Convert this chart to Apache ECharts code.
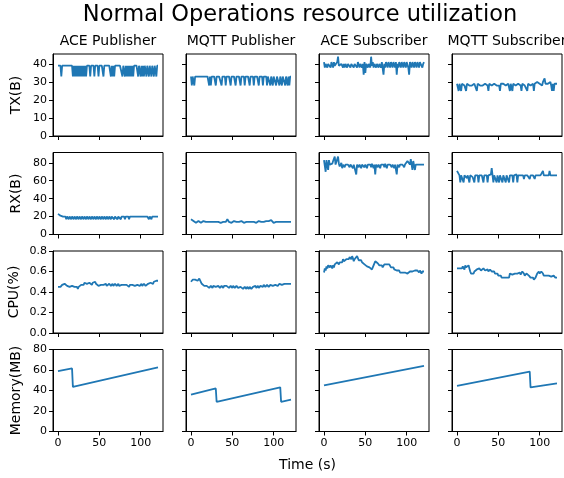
<!DOCTYPE html>
<html><head><meta charset="utf-8">
<script src="https://cdn.jsdelivr.net/npm/echarts@6/dist/echarts.min.js"></script>
<style>html,body{margin:0;padding:0;background:#fff}#c{width:564px;height:478px}</style>
</head><body><div id="c"></div>
<script>
// ---------------- data ----------------
const chartTitle = 'Normal Operations resource utilization';
const columns = ['ACE Publisher', 'MQTT Publisher', 'ACE Subscriber', 'MQTT Subscriber'];
const rowLabels = ['TX(B)', 'RX(B)', 'CPU(%)', 'Memory(MB)'];
const xLabel = 'Time (s)';
const SAMPLE_STEP = 1; // seconds between samples
const xTicks = [0, 50, 100];
const txTicks = [0, 10, 20, 30, 40];
const rxTicks = [0, 20, 40, 60, 80];
const cpuTicks = [0, 0.2, 0.4, 0.6, 0.8];
const memTicks = [0, 20, 40, 60, 80];

const tx_acePub = [
39,39,39,39,33,39,39,39,39,39,
39,39,39,39,39,39,39,39,33,39,
33,39,33,39,33,39,33,39,33,39,
33,39,33,39,33,39,39,39,39,33,
39,39,39,39,33,39,39,39,39,33,
39,39,39,39,39,33,39,39,39,39,
39,39,39,39,33,39,33,39,33,39,
39,39,39,39,39,39,39,39,33,39,
39,33,39,33,39,33,39,33,39,33,
39,33,39,39,39,39,39,33,39,39,
33,39,33,39,33,39,39,33,39,39,
33,39,39,33,39,39,33,39,39,33,
39,39];
const tx_mqttPub = [
33,28,33,33,28,33,33,33,33,33,
33,33,33,33,33,33,33,33,33,33,
33,33,28,33,28,33,33,33,33,33,
28,33,33,33,33,33,33,28,33,33,
33,33,28,33,33,33,33,33,28,33,
33,33,33,33,28,33,33,33,33,33,
28,33,33,33,33,28,33,33,33,33,
33,28,33,33,33,33,28,33,33,33,
33,33,28,33,33,33,33,28,33,33,
33,33,28,33,33,33,28,33,33,28,
33,33,33,28,33,33,33,28,33,33,
28,33,33,33,28,33,33,28,33,28,
33,33];
const tx_aceSub = [
41,38,40,41,38,40,39,41,38,41,
40,38,41,39,40,38,41,44,39,40,
38,40,41,38,40,38,40,41,38,40,
40,41,38,40,39,40,38,40,41,40,
38,41,40,38,40,41,38,40,34,41,
35,40,41,38,40,41,38,44,39,41,
38,40,41,38,40,41,38,40,41,38,
41,40,34,40,38,41,40,38,41,40,
38,41,40,38,41,40,38,41,34,40,
38,41,40,38,41,40,38,41,40,38,
41,40,38,34,41,40,38,41,40,38,
41,40,38,41,40,38,41,40,41,38,
40,41];
const tx_mqttSub = [
29,29,25,29,28,25,29,28,29,28,
29,25,29,28,29,28,29,29,28,29,
28,29,28,29,25,29,28,29,28,29,
29,28,29,28,29,28,29,28,25,29,
28,29,28,29,28,29,28,29,28,29,
29,28,25,29,28,29,29,28,29,28,
29,28,29,28,25,29,28,25,29,28,
29,28,29,28,29,28,29,28,25,29,
28,29,28,29,28,25,29,28,29,28,
29,28,29,25,29,28,29,30,29,31,
29,30,29,28,30,29,32,29,30,28,
29,28,29,30,28,25,29,25,29,28,
29,29];

const rx_acePub = [
23,23,22,21,21,20,20,20,20,20,
17,20,20,17,20,20,17,20,20,17,
20,20,17,20,20,17,20,20,17,20,
20,17,20,20,17,20,20,17,20,20,
17,20,20,17,20,20,17,20,20,17,
20,20,17,20,20,17,20,20,17,20,
20,17,20,20,17,20,20,20,17,20,
20,20,17,20,20,20,17,20,20,20,
20,17,20,20,20,20,17,20,20,20,
20,20,20,20,20,20,20,20,20,20,
20,20,20,20,20,20,20,20,20,20,
17,20,20,17,20,20,20,20,20,20,
20,20];
const rx_mqttPub = [
17,17,16,15,13,15,13,14,14,15,
14,14,13,14,14,15,14,14,14,14,
13,14,14,14,14,15,14,14,14,14,
14,14,15,14,14,14,13,14,14,14,
14,15,14,16,17,15,14,14,14,13,
14,14,15,14,14,14,14,13,14,14,
14,15,14,14,13,14,14,14,15,14,
14,14,13,14,14,15,14,14,14,13,
14,14,15,14,14,14,14,15,14,14,
14,15,14,16,15,14,14,16,15,14,
13,14,14,14,14,14,14,14,14,14,
14,14,14,14,14,14,14,14,14,14,
14,14];
const rx_aceSub = [
83,83,70,83,83,72,83,78,80,76,
79,82,80,87,78,76,80,87,79,76,
78,80,74,78,79,75,78,80,76,78,
79,75,78,77,79,74,78,80,76,67,
78,79,75,78,80,74,78,77,79,75,
78,80,74,78,79,76,78,75,79,78,
74,78,67,78,79,75,78,80,74,78,
79,76,78,75,79,78,74,78,80,76,
78,79,75,78,80,74,78,79,67,78,
79,75,78,80,76,78,79,75,78,78,
78,82,82,82,78,84,78,72,82,84,
72,78,78,78,78,78,78,78,78,78,
78,78];
const rx_mqttSub = [
71,71,69,66,58,66,64,66,58,66,
65,66,63,66,67,58,66,65,66,64,
66,58,66,67,65,66,58,66,64,66,
66,65,58,66,67,64,66,58,66,65,
66,67,74,66,58,66,65,64,58,66,
66,58,66,67,65,58,66,64,66,58,
66,65,66,58,66,67,64,66,58,66,
65,66,67,58,66,66,64,66,66,66,
66,62,66,66,66,66,66,66,62,66,
66,66,66,66,62,66,66,66,66,66,
66,66,66,66,71,66,66,66,66,66,
66,66,71,66,66,66,66,66,66,66,
66,66];

const cpu_acePub = [
0.45,0.45,0.46,0.45,0.46,0.47,0.46,0.47,0.48,0.47,
0.48,0.46,0.47,0.46,0.45,0.46,0.44,0.46,0.45,0.47,
0.45,0.44,0.46,0.45,0.43,0.45,0.46,0.44,0.47,0.46,
0.48,0.47,0.49,0.48,0.50,0.48,0.49,0.47,0.49,0.48,
0.48,0.47,0.49,0.50,0.49,0.50,0.48,0.49,0.47,0.46,
0.47,0.46,0.47,0.46,0.48,0.47,0.46,0.47,0.48,0.46,
0.47,0.46,0.48,0.47,0.46,0.47,0.48,0.46,0.47,0.48,
0.47,0.46,0.47,0.48,0.46,0.47,0.45,0.47,0.48,0.46,
0.47,0.46,0.48,0.47,0.46,0.47,0.45,0.47,0.48,0.46,
0.47,0.48,0.47,0.46,0.47,0.45,0.47,0.48,0.47,0.46,
0.47,0.48,0.46,0.47,0.48,0.47,0.46,0.45,0.47,0.48,
0.47,0.48,0.49,0.48,0.49,0.48,0.50,0.49,0.50,0.51,
0.50,0.51];
const cpu_mqttPub = [
0.50,0.51,0.52,0.51,0.52,0.52,0.51,0.52,0.51,0.52,
0.53,0.54,0.52,0.48,0.47,0.47,0.46,0.47,0.45,0.46,
0.45,0.46,0.44,0.45,0.46,0.45,0.44,0.46,0.45,0.46,
0.45,0.44,0.45,0.46,0.45,0.44,0.45,0.46,0.45,0.44,
0.46,0.45,0.47,0.46,0.45,0.46,0.44,0.45,0.46,0.45,
0.44,0.46,0.45,0.44,0.45,0.46,0.45,0.44,0.45,0.44,
0.45,0.44,0.45,0.43,0.44,0.45,0.44,0.43,0.45,0.44,
0.43,0.45,0.44,0.43,0.44,0.45,0.44,0.45,0.46,0.44,
0.45,0.46,0.44,0.45,0.46,0.45,0.46,0.45,0.47,0.46,
0.45,0.46,0.47,0.46,0.45,0.46,0.47,0.46,0.47,0.46,
0.47,0.46,0.47,0.48,0.47,0.46,0.47,0.48,0.47,0.48,
0.47,0.48,0.47,0.48,0.48,0.47,0.48,0.47,0.48,0.48,
0.47,0.48];
const cpu_aceSub = [
0.59,0.63,0.61,0.65,0.63,0.66,0.67,0.64,0.66,0.65,
0.63,0.66,0.64,0.67,0.68,0.66,0.69,0.70,0.67,0.69,
0.68,0.70,0.69,0.72,0.70,0.71,0.69,0.72,0.71,0.73,
0.72,0.74,0.73,0.72,0.75,0.73,0.70,0.72,0.71,0.73,
0.75,0.73,0.71,0.72,0.70,0.71,0.69,0.68,0.69,0.67,
0.66,0.67,0.65,0.64,0.66,0.64,0.63,0.64,0.62,0.64,
0.66,0.68,0.70,0.69,0.70,0.68,0.67,0.66,0.67,0.65,
0.66,0.64,0.65,0.67,0.68,0.66,0.67,0.68,0.66,0.67,
0.66,0.64,0.65,0.63,0.64,0.62,0.63,0.62,0.61,0.62,
0.60,0.61,0.59,0.60,0.58,0.59,0.60,0.58,0.59,0.60,
0.59,0.58,0.57,0.58,0.60,0.61,0.59,0.60,0.61,0.60,
0.61,0.60,0.62,0.61,0.60,0.59,0.61,0.60,0.58,0.60,
0.59,0.60];
const cpu_mqttSub = [
0.63,0.62,0.64,0.63,0.62,0.64,0.63,0.65,0.64,0.62,
0.66,0.64,0.63,0.65,0.66,0.63,0.60,0.58,0.59,0.57,
0.58,0.60,0.61,0.60,0.62,0.61,0.62,0.63,0.62,0.61,
0.62,0.61,0.63,0.62,0.61,0.62,0.61,0.62,0.60,0.61,
0.62,0.61,0.60,0.61,0.59,0.60,0.58,0.59,0.57,0.58,
0.56,0.57,0.55,0.56,0.54,0.55,0.53,0.54,0.55,0.53,
0.54,0.53,0.55,0.54,0.58,0.57,0.58,0.57,0.58,0.56,
0.58,0.57,0.59,0.58,0.57,0.58,0.59,0.57,0.58,0.60,
0.59,0.58,0.56,0.57,0.58,0.59,0.57,0.56,0.55,0.54,
0.53,0.55,0.54,0.52,0.53,0.54,0.56,0.58,0.59,0.60,
0.58,0.59,0.60,0.59,0.58,0.56,0.57,0.55,0.56,0.55,
0.57,0.56,0.55,0.56,0.55,0.54,0.55,0.56,0.55,0.54,
0.55,0.54];

// memory: [time (s), MB] readings at the visible breakpoints
const mem_acePub  = [[0, 59], [17, 61.5], [18, 43.5], [121, 62.5]];
const mem_mqttPub = [[0, 36], [30, 42], [31, 29], [108, 43], [109, 29], [121, 31]];
const mem_aceSub  = [[0, 45], [121, 64]];
const mem_mqttSub = [[0, 44.5], [88, 58.5], [89, 43], [121, 47]];

// ---------------- layout / style ----------------
const FONT = 'DejaVu Sans';
const colLeft = [53, 186, 319, 452];
const rowTop = [54, 152.5, 251, 349.5];
const GW = 110, GH = 82;
const X_MIN = -6.05, X_MAX = 127.05;
const LINE_COLOR = '#1f77b4';

const rows = [
  { max: 45.5, ticks: txTicks, fmt: v => String(v), data: [tx_acePub, tx_mqttPub, tx_aceSub, tx_mqttSub], labelX: 16.5 },
  { max: 91.5, ticks: rxTicks, fmt: v => String(v), data: [rx_acePub, rx_mqttPub, rx_aceSub, rx_mqttSub], labelX: 16 },
  { max: 0.8, ticks: cpuTicks, fmt: v => Number(v).toFixed(1), data: [cpu_acePub, cpu_mqttPub, cpu_aceSub, cpu_mqttSub], labelX: 14 },
  { max: 80, ticks: memTicks, fmt: v => String(v), data: [mem_acePub, mem_mqttPub, mem_aceSub, mem_mqttSub], labelX: 16 }
];

function toPairs(d) {
  if (Array.isArray(d[0])) return d;
  return d.map((v, k) => [k * SAMPLE_STEP, v]);
}

const grids = [], xAxes = [], yAxes = [], series = [];
rows.forEach((rc, r) => {
  rc.data.forEach((d, c) => {
    const i = r * 4 + c;
    grids.push({ left: colLeft[c], top: rowTop[r], width: GW, height: GH, show: true,
      borderColor: '#000', borderWidth: 1, backgroundColor: 'transparent' });
    xAxes.push({ gridIndex: i, type: 'value', min: X_MIN, max: X_MAX,
      axisLine: { show: true, onZero: false, lineStyle: { color: '#000', width: 1 } },
      splitLine: { show: false },
      axisTick: { show: true, length: 4, lineStyle: { color: '#000', width: 1 }, customValues: xTicks },
      axisLabel: { show: r === 3, customValues: xTicks, fontSize: 11, color: '#000', margin: 6, fontFamily: FONT } });
    yAxes.push({ gridIndex: i, type: 'value', min: 0, max: rc.max,
      axisLine: { show: true, onZero: false, lineStyle: { color: '#000', width: 1 } },
      splitLine: { show: false },
      axisTick: { show: true, length: 4, lineStyle: { color: '#000', width: 1 }, customValues: rc.ticks },
      axisLabel: { show: c === 0, customValues: rc.ticks, formatter: rc.fmt, fontSize: 11, color: '#000', margin: 6, fontFamily: FONT } });
    series.push({ type: 'line', xAxisIndex: i, yAxisIndex: i, data: toPairs(d),
      showSymbol: false, symbol: 'none', clip: true,
      lineStyle: { color: LINE_COLOR, width: 1.8 }, itemStyle: { color: LINE_COLOR } });
  });
});

function txt(text, x, y, size, rot) {
  return { type: 'text', x: x, y: y, rotation: rot || 0,
    style: { text: text, fill: '#000', font: size + 'px "' + FONT + '"',
      textAlign: 'center', align: 'center', textVerticalAlign: 'middle', verticalAlign: 'middle' } };
}
const graphics = [txt(chartTitle, 300, 15, 22.5)];
columns.forEach((t, c) => graphics.push(txt(t, colLeft[c] + GW / 2, 41, 14)));
rows.forEach((rc, r) => graphics.push(txt(rowLabels[r], rc.labelX, rowTop[r] + GH / 2, 14, Math.PI / 2)));
graphics.push(txt(xLabel, colLeft[0] + (colLeft[3] + GW - colLeft[0]) / 2, 465, 14));

const chart = echarts.init(document.getElementById('c'), null, { renderer: 'canvas' });
chart.setOption({
  animation: false,
  backgroundColor: '#fff',
  textStyle: { fontFamily: FONT },
  grid: grids, xAxis: xAxes, yAxis: yAxes, series: series,
  graphic: { elements: graphics }
});
</script></body></html>
